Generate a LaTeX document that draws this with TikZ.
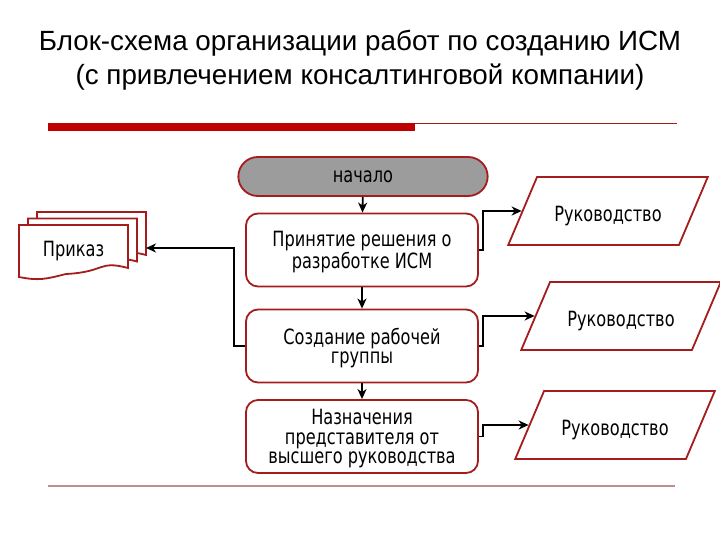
\documentclass[tikz,border=0pt]{standalone}
\usepackage{fontspec}
\setmainfont{Liberation Sans}
\newfontfamily\blokfont[FakeStretch=0.77]{DejaVu Sans}
\usetikzlibrary{arrows.meta,positioning,shapes.geometric,shapes.misc}
\definecolor{ramka}{HTML}{A51C1C}
\definecolor{krasn}{HTML}{C00000}
\definecolor{liniya}{HTML}{C08C8C}
\definecolor{seryj}{HTML}{9C9C9C}
\newcommand{\dokument}[2]{%
  \draw[dok] (#1,#2) -- ++(109,0) -- ++(0,43)
    .. controls ++(-30,-8) and ++(40,-2) .. ++(-62,6)
    .. controls ++(-20,5) and ++(20,4) .. ++(-47,3) -- cycle;}
\tikzset{
  blok/.style={draw=ramka,line width=1.8pt,fill=white,rounded corners=12pt,
    minimum width=232pt,minimum height=73pt,align=center,
    font=\blokfont\fontsize{21}{19.3}\selectfont,text depth=-3pt},
  nachalo/.style={draw=ramka,line width=1.8pt,rounded rectangle,fill=seryj,
    minimum width=256pt,minimum height=39pt,
    font=\blokfont\fontsize{21}{19.3}\selectfont},
  ruk/.style={draw=ramka,line width=1.8pt,trapezium,trapezium left angle=58,
    trapezium right angle=122,trapezium stretches=true,minimum width=200pt,
    minimum height=68pt,font=\blokfont\fontsize{21}{19.3}\selectfont,
    execute at begin node={\rule{0pt}{26pt}}},
  dok/.style={draw=ramka,line width=1.8pt,fill=white},
  strelka/.style={draw,line width=1.8pt,-{Stealth[length=10pt,width=9pt,inset=3pt]}},
}
\begin{document}
\begin{tikzpicture}[x=1pt,y=-1pt]
  \useasboundingbox (0,0) rectangle (720,540);
  % zagolovok
  \node[align=center,font=\fontsize{27.8}{34.5}\selectfont] (title) at (360,60)
    {Блок-схема организации работ по созданию ИСМ\\(с привлечением консалтинговой компании)};
  \fill[krasn] (48,123) rectangle (415,131);
  \draw[ramka,line width=1pt] (415,123.5) -- (677,123.5);
  \draw[liniya,line width=2.5pt] (48,486) -- (675,486);
  % blok-skhema
  \node[nachalo] (start) at (363,176.5) {начало};
  \node[blok] (b1) at (362,250) {Принятие решения о\\разработке ИСМ};
  \node[blok] (b2) at (362,346) {Создание рабочей\\группы};
  \node[blok] (b3) at (362,436.5) {Назначения\\представителя от\\высшего руководства};
  \node[ruk] (p1) at (608,211) {Руководство};
  \node[ruk] (p2) at (621,316) {Руководство};
  \node[ruk] (p3) at (615,425) {Руководство};
  % prikaz
  \dokument{37}{212}
  \dokument{28}{218.5}
  \dokument{19}{225}
  \node[font=\blokfont\fontsize{21}{19.3}\selectfont] (prikaz) at (73.5,251) {Приказ};
  \coordinate (prikaz-vhod) at (146,248);
  % strelki
  \draw[strelka] (start) -- (b1);
  \draw[strelka] (b1) -- (b2);
  \draw[strelka] (b2) -- (b3);
  \draw[strelka] (b1.east) -- ++(4,0) |- (p1.west);
  \draw[strelka] (b2.east) -- ++(4,0) |- (p2.west);
  \draw[strelka] (b3.east) -- ++(4,0) |- (p3.west);
  \draw[strelka] (b2.west) -- ++(-11,0) |- (prikaz-vhod);
\end{tikzpicture}
\end{document}
